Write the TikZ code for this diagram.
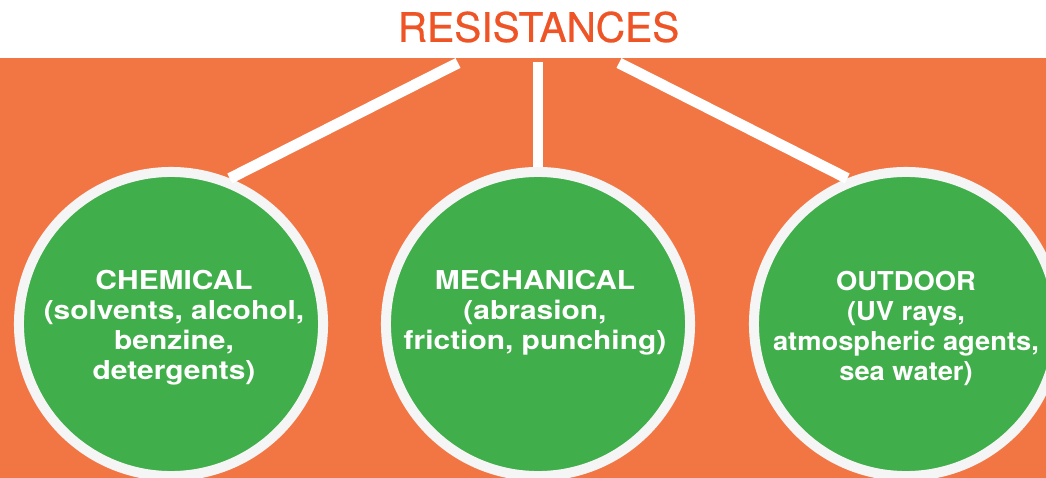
\documentclass[tikz,border=0pt]{standalone}
\usepackage{fontspec}
\setmainfont{TeX Gyre Heros}
\newfontfamily\headfont[FakeBold=0.6]{TeX Gyre Heros}
\newfontfamily\discfont[FakeStretch=1.15]{TeX Gyre Heros}
\newfontfamily\discfontnarrow[FakeStretch=1.05]{TeX Gyre Heros}
\definecolor{bgorange}{HTML}{F27544}
\definecolor{titleorange}{HTML}{EE5425}
\definecolor{discgreen}{HTML}{40AE4A}
\definecolor{ringwhite}{HTML}{F4F5F4}

\begin{document}
\begin{tikzpicture}[
  x=0.025cm, y=-0.025cm,
  title/.style    = {inner sep=0pt, text=titleorange,
                     font=\headfont\fontsize{28.9pt}{34pt}\selectfont},
  disc/.style     = {circle, draw=ringwhite, fill=discgreen, line width=7.1pt,
                     minimum size=7.6cm, inner sep=0pt},
  disctext/.style = {anchor=north, inner sep=0pt, align=center, text=white,
                     font=\discfont\bfseries\fontsize{18.5pt}{21.34pt}\selectfont},
  branch/.style   = {draw=white, line width=7.8pt}
]
\useasboundingbox (0,0) rectangle (1046,478);
\clip (0,0) rectangle (1046,478);
\fill[white] (0,0) rectangle (1046,478);
\fill[bgorange] (0,58) rectangle (1046,478);

\node[title] (head) at (538.5,27) {RESISTANCES};

\coordinate (forkL) at (458,63);
\coordinate (forkM) at (538,62);
\coordinate (forkR) at (619,63);

\node[disc] (chem) at (171,324) {};
\node[disc] (mech) at (538,324) {};
\node[disc] (outd) at (906,324) {};

\draw[branch] (forkL) -- (chem.68);
\draw[branch] (forkM) -- (mech.north);
\draw[branch] (forkR) -- (outd.112);

\node[disctext] (chemtxt) at (174,270)
     {CHEMICAL\\(solvents, alcohol,\\benzine,\\detergents)};
\node[disctext] (mechtxt) at (535,270)
     {MECHANICAL\\(abrasion,\\friction, punching)};
\node[disctext, font=\discfontnarrow\bfseries\fontsize{18.5pt}{21.34pt}\selectfont]
     (outdtxt) at (906,271)
     {OUTDOOR\\(UV rays,\\atmospheric agents,\\sea water)};

\end{tikzpicture}
\end{document}
